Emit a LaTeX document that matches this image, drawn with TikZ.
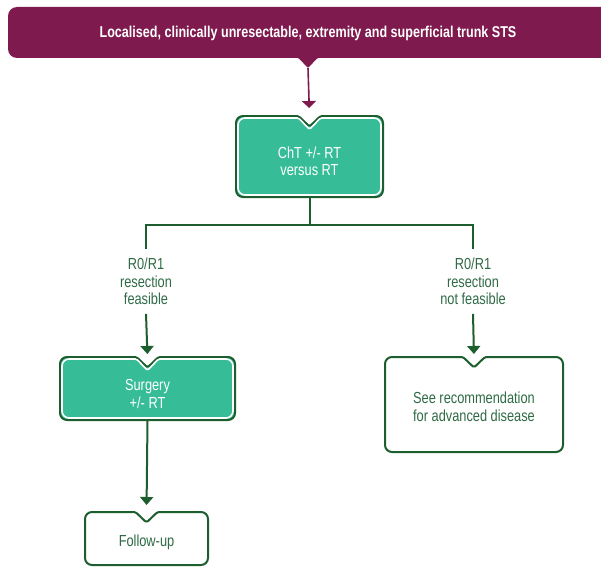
\documentclass[tikz,border=0pt]{standalone}
\usepackage{fontspec}
\setmainfont{Liberation Sans}[FakeStretch=0.80]
\usetikzlibrary{arrows.meta,calc,backgrounds}
\definecolor{maroonc}{HTML}{7F1A4E}
\definecolor{tealc}{HTML}{36BD97}
\definecolor{dkgreen}{HTML}{1D5E2E}
\definecolor{txtgreen}{HTML}{2F6B45}
% notched rounded box drawn round node #1, inset #2, style #3
\newcommand\nbox[3]{\path[#3] let \p1=(#1.north west), \p2=(#1.south east), \p3=(#1.north) in
 (\x1+#2,{(\y1+\y2)/2}) [rounded corners=7pt] -- (\x1+#2,\y1-#2) -- (\x3-20pt,\y1-#2)
 [rounded corners=1.5pt] -- (\x3-11pt,\y1-#2) -- (\x3,\y1-10.5pt-1.4*#2) -- (\x3+11pt,\y1-#2) -- (\x3+20pt,\y1-#2)
 [rounded corners=7pt] -- (\x2-#2,\y1-#2) -- (\x2-#2,\y2+#2) -- (\x1+#2,\y2+#2) -- cycle;}
\tikzset{
  boxnode/.style={inner sep=0pt, outer sep=0pt},
  boxtext/.style={align=center, font=\fontsize{16}{17.5}\selectfont, inner sep=0pt},
  lbl/.style={align=center, font=\fontsize{16}{17.5}\selectfont, text=txtgreen, inner sep=0pt, outer ysep=9pt},
  gline/.style={draw=dkgreen, line width=2pt},
  garrow/.style={gline, -{Triangle[width=13pt,length=8pt]}},
  marrow/.style={draw=maroonc, line width=1.6pt, -{Triangle[width=14pt,length=7pt]}},
}
\begin{document}
\begin{tikzpicture}[x=1pt,y=-1pt]
\useasboundingbox (0,0) rectangle (601,567);
\clip (0,0) rectangle (601,567);
% banner
\fill[maroonc] (8,33) [rounded corners=9pt] -- (8,7) -- (625,7) -- (625,58) -- (330,58)
  [rounded corners=1pt] -- (317.5,58) -- (308,68) -- (298.5,58) -- (285,58)
  [rounded corners=9pt] -- (8,58) -- cycle;
\node[text=white, font=\bfseries\fontsize{15.7}{17}\selectfont, inner sep=0pt] (banner) at (308,33)
  {Localised, clinically unresectable, extremity and superficial trunk STS};
\coordinate (bt) at (308,68);
% boxes
\node[boxnode, minimum width=147, minimum height=81] (b1) at (309.5,156.5) {};
\node[boxnode, minimum width=175, minimum height=63] (b2) at (147.5,388.5) {};
\node[boxnode, minimum width=178, minimum height=95] (b3) at (474,404.5) {};
\node[boxnode, minimum width=123, minimum height=53] (b4) at (146.5,538.5) {};
\begin{scope}[on background layer]
  \nbox{b1}{0pt}{fill=tealc, draw=dkgreen, line width=2pt}
  \nbox{b1}{2pt}{draw=white, line width=1.6pt}
  \nbox{b2}{0pt}{fill=tealc, draw=dkgreen, line width=2pt}
  \nbox{b2}{2pt}{draw=white, line width=1.6pt}
  \nbox{b3}{0pt}{fill=white, draw=dkgreen, line width=2pt}
  \nbox{b4}{0pt}{fill=white, draw=dkgreen, line width=2pt}
\end{scope}
\node[boxtext, text=white] (t1) at ($(b1.center)+(0,5)$) {ChT +/- RT\\versus RT};
\node[boxtext, text=white] (t2) at ($(b2.center)+(0,5.5)$) {Surgery\\+/- RT};
\node[boxtext, text=txtgreen] (t3) at ($(b3.center)+(0,2.5)$) {See recommendation\\for advanced disease};
\node[boxtext, text=txtgreen] (t4) at ($(b4.center)+(0,4)$) {Follow-up};
% labels
\node[lbl] (l1) at (146,281.5) {R0/R1\\resection\\feasible};
\node[lbl] (l2) at (473,281.5) {R0/R1\\resection\\not feasible};
% connectors
\draw[marrow, shorten >=8pt] (bt) -- (b1.north);
\draw[gline] (b1.south) -- ($(b1.south)+(0,28)$);
\draw[gline] (l1.north) |- ($(b1.south)+(0,28)$) -| (l2.north);
\draw[garrow, shorten >=3pt] (l1.south) -- (b2.north);
\draw[garrow, shorten >=3pt] (l2.south) -- (b3.north);
\draw[garrow, shorten >=7pt] (b2.south) -- (b4.north);
\end{tikzpicture}
\end{document}
